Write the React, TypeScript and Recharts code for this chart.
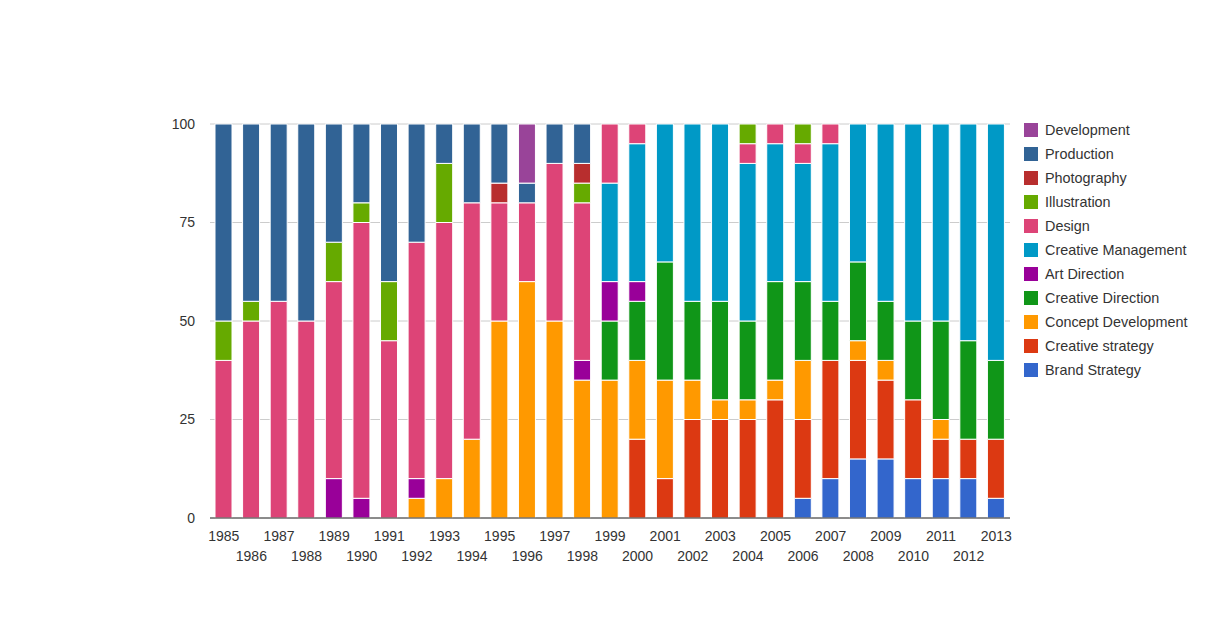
import React from 'react';
import { BarChart, Bar, XAxis, YAxis, CartesianGrid } from 'recharts';

const years = [
  '1985', '1986', '1987', '1988', '1989', '1990', '1991', '1992', '1993', '1994',
  '1995', '1996', '1997', '1998', '1999', '2000', '2001', '2002', '2003', '2004',
  '2005', '2006', '2007', '2008', '2009', '2010', '2011', '2012', '2013',
];

// bottom to top stacking order
const brandStrategy = [0, 0, 0, 0, 0, 0, 0, 0, 0, 0, 0, 0, 0, 0, 0, 0, 0, 0, 0, 0, 0, 5, 10, 15, 15, 10, 10, 10, 5];
const creativeStrategy = [0, 0, 0, 0, 0, 0, 0, 0, 0, 0, 0, 0, 0, 0, 0, 20, 10, 25, 25, 25, 30, 20, 30, 25, 20, 20, 10, 10, 15];
const conceptDevelopment = [0, 0, 0, 0, 0, 0, 0, 5, 10, 20, 50, 60, 50, 35, 35, 20, 25, 10, 5, 5, 5, 15, 0, 5, 5, 0, 5, 0, 0];
const creativeDirection = [0, 0, 0, 0, 0, 0, 0, 0, 0, 0, 0, 0, 0, 0, 15, 15, 30, 20, 25, 20, 25, 20, 15, 20, 15, 20, 25, 25, 20];
const artDirection = [0, 0, 0, 0, 10, 5, 0, 5, 0, 0, 0, 0, 0, 5, 10, 5, 0, 0, 0, 0, 0, 0, 0, 0, 0, 0, 0, 0, 0];
const creativeManagement = [0, 0, 0, 0, 0, 0, 0, 0, 0, 0, 0, 0, 0, 0, 25, 35, 35, 45, 45, 40, 35, 30, 40, 35, 45, 50, 50, 55, 60];
const design = [40, 50, 55, 50, 50, 70, 45, 60, 65, 60, 30, 20, 40, 40, 15, 5, 0, 0, 0, 5, 5, 5, 5, 0, 0, 0, 0, 0, 0];
const illustration = [10, 5, 0, 0, 10, 5, 15, 0, 15, 0, 0, 0, 0, 5, 0, 0, 0, 0, 0, 5, 0, 5, 0, 0, 0, 0, 0, 0, 0];
const photography = [0, 0, 0, 0, 0, 0, 0, 0, 0, 0, 5, 0, 0, 5, 0, 0, 0, 0, 0, 0, 0, 0, 0, 0, 0, 0, 0, 0, 0];
const production = [50, 45, 45, 50, 30, 20, 40, 30, 10, 20, 15, 5, 10, 10, 0, 0, 0, 0, 0, 0, 0, 0, 0, 0, 0, 0, 0, 0, 0];
const development = [0, 0, 0, 0, 0, 0, 0, 0, 0, 0, 0, 15, 0, 0, 0, 0, 0, 0, 0, 0, 0, 0, 0, 0, 0, 0, 0, 0, 0];

const yTicks = [0, 25, 50, 75, 100];

const series = [
  { key: 'Brand Strategy', values: brandStrategy, color: '#3366cc' },
  { key: 'Creative strategy', values: creativeStrategy, color: '#dc3912' },
  { key: 'Concept Development', values: conceptDevelopment, color: '#ff9900' },
  { key: 'Creative Direction', values: creativeDirection, color: '#109618' },
  { key: 'Art Direction', values: artDirection, color: '#990099' },
  { key: 'Creative Management', values: creativeManagement, color: '#0099c6' },
  { key: 'Design', values: design, color: '#dd4477' },
  { key: 'Illustration', values: illustration, color: '#66aa00' },
  { key: 'Photography', values: photography, color: '#b82e2e' },
  { key: 'Production', values: production, color: '#316395' },
  { key: 'Development', values: development, color: '#994499' },
];

const data = years.map((year, i) => {
  const row: Record<string, string | number> = { year };
  series.forEach((s) => {
    row[s.key] = s.values[i];
  });
  return row;
});

const font = 'Arial, "Liberation Sans", sans-serif';
const textColor = '#333';

const YearTick = (props: any) => {
  const { x, y, payload, index } = props;
  return (
    <text
      x={x}
      y={y + (index % 2 === 0 ? 23 : 43)}
      textAnchor="middle"
      fill={textColor}
      fontSize={14}
      fontFamily={font}
    >
      {payload.value}
    </text>
  );
};

const App = () => {
  return (
    <div style={{ position: 'absolute', left: 0, top: 0, width: 1218, height: 641, background: '#fff' }}>
      <BarChart
        width={1218}
        height={641}
        data={data}
        margin={{ top: 124, right: 208, bottom: 63, left: 0 }}
        barSize={17}
      >
        <CartesianGrid vertical={false} stroke="#cccccc" />
        <XAxis
          dataKey="year"
          interval={0}
          height={60}
          tickSize={0}
          tickMargin={0}
          tickLine={false}
          axisLine={{ stroke: '#333' }}
          tick={<YearTick />}
        />
        <YAxis
          width={210}
          domain={[0, 100]}
          ticks={yTicks}
          axisLine={false}
          tickLine={false}
          tickSize={0}
          tickMargin={15}
          tick={{ fill: textColor, fontSize: 14, fontFamily: font }}
        />
        {series.map((s) => (
          <Bar
            key={s.key}
            dataKey={s.key}
            stackId="a"
            fill={s.color}
            stroke="#fff"
            strokeWidth={1}
            isAnimationActive={false}
          />
        ))}
      </BarChart>
      <div style={{ position: 'absolute', left: 1024, top: 123, fontFamily: font, fontSize: 14.4, color: textColor }}>
        {[...series].reverse().map((s) => (
          <div key={s.key} style={{ display: 'flex', alignItems: 'center', height: 24, whiteSpace: 'nowrap' }}>
            <div style={{ width: 14, height: 14, background: s.color, marginRight: 7, alignSelf: 'flex-start' }} />
            <span style={{ lineHeight: '14px', alignSelf: 'flex-start' }}>{s.key}</span>
          </div>
        ))}
      </div>
    </div>
  );
};

export default App;
